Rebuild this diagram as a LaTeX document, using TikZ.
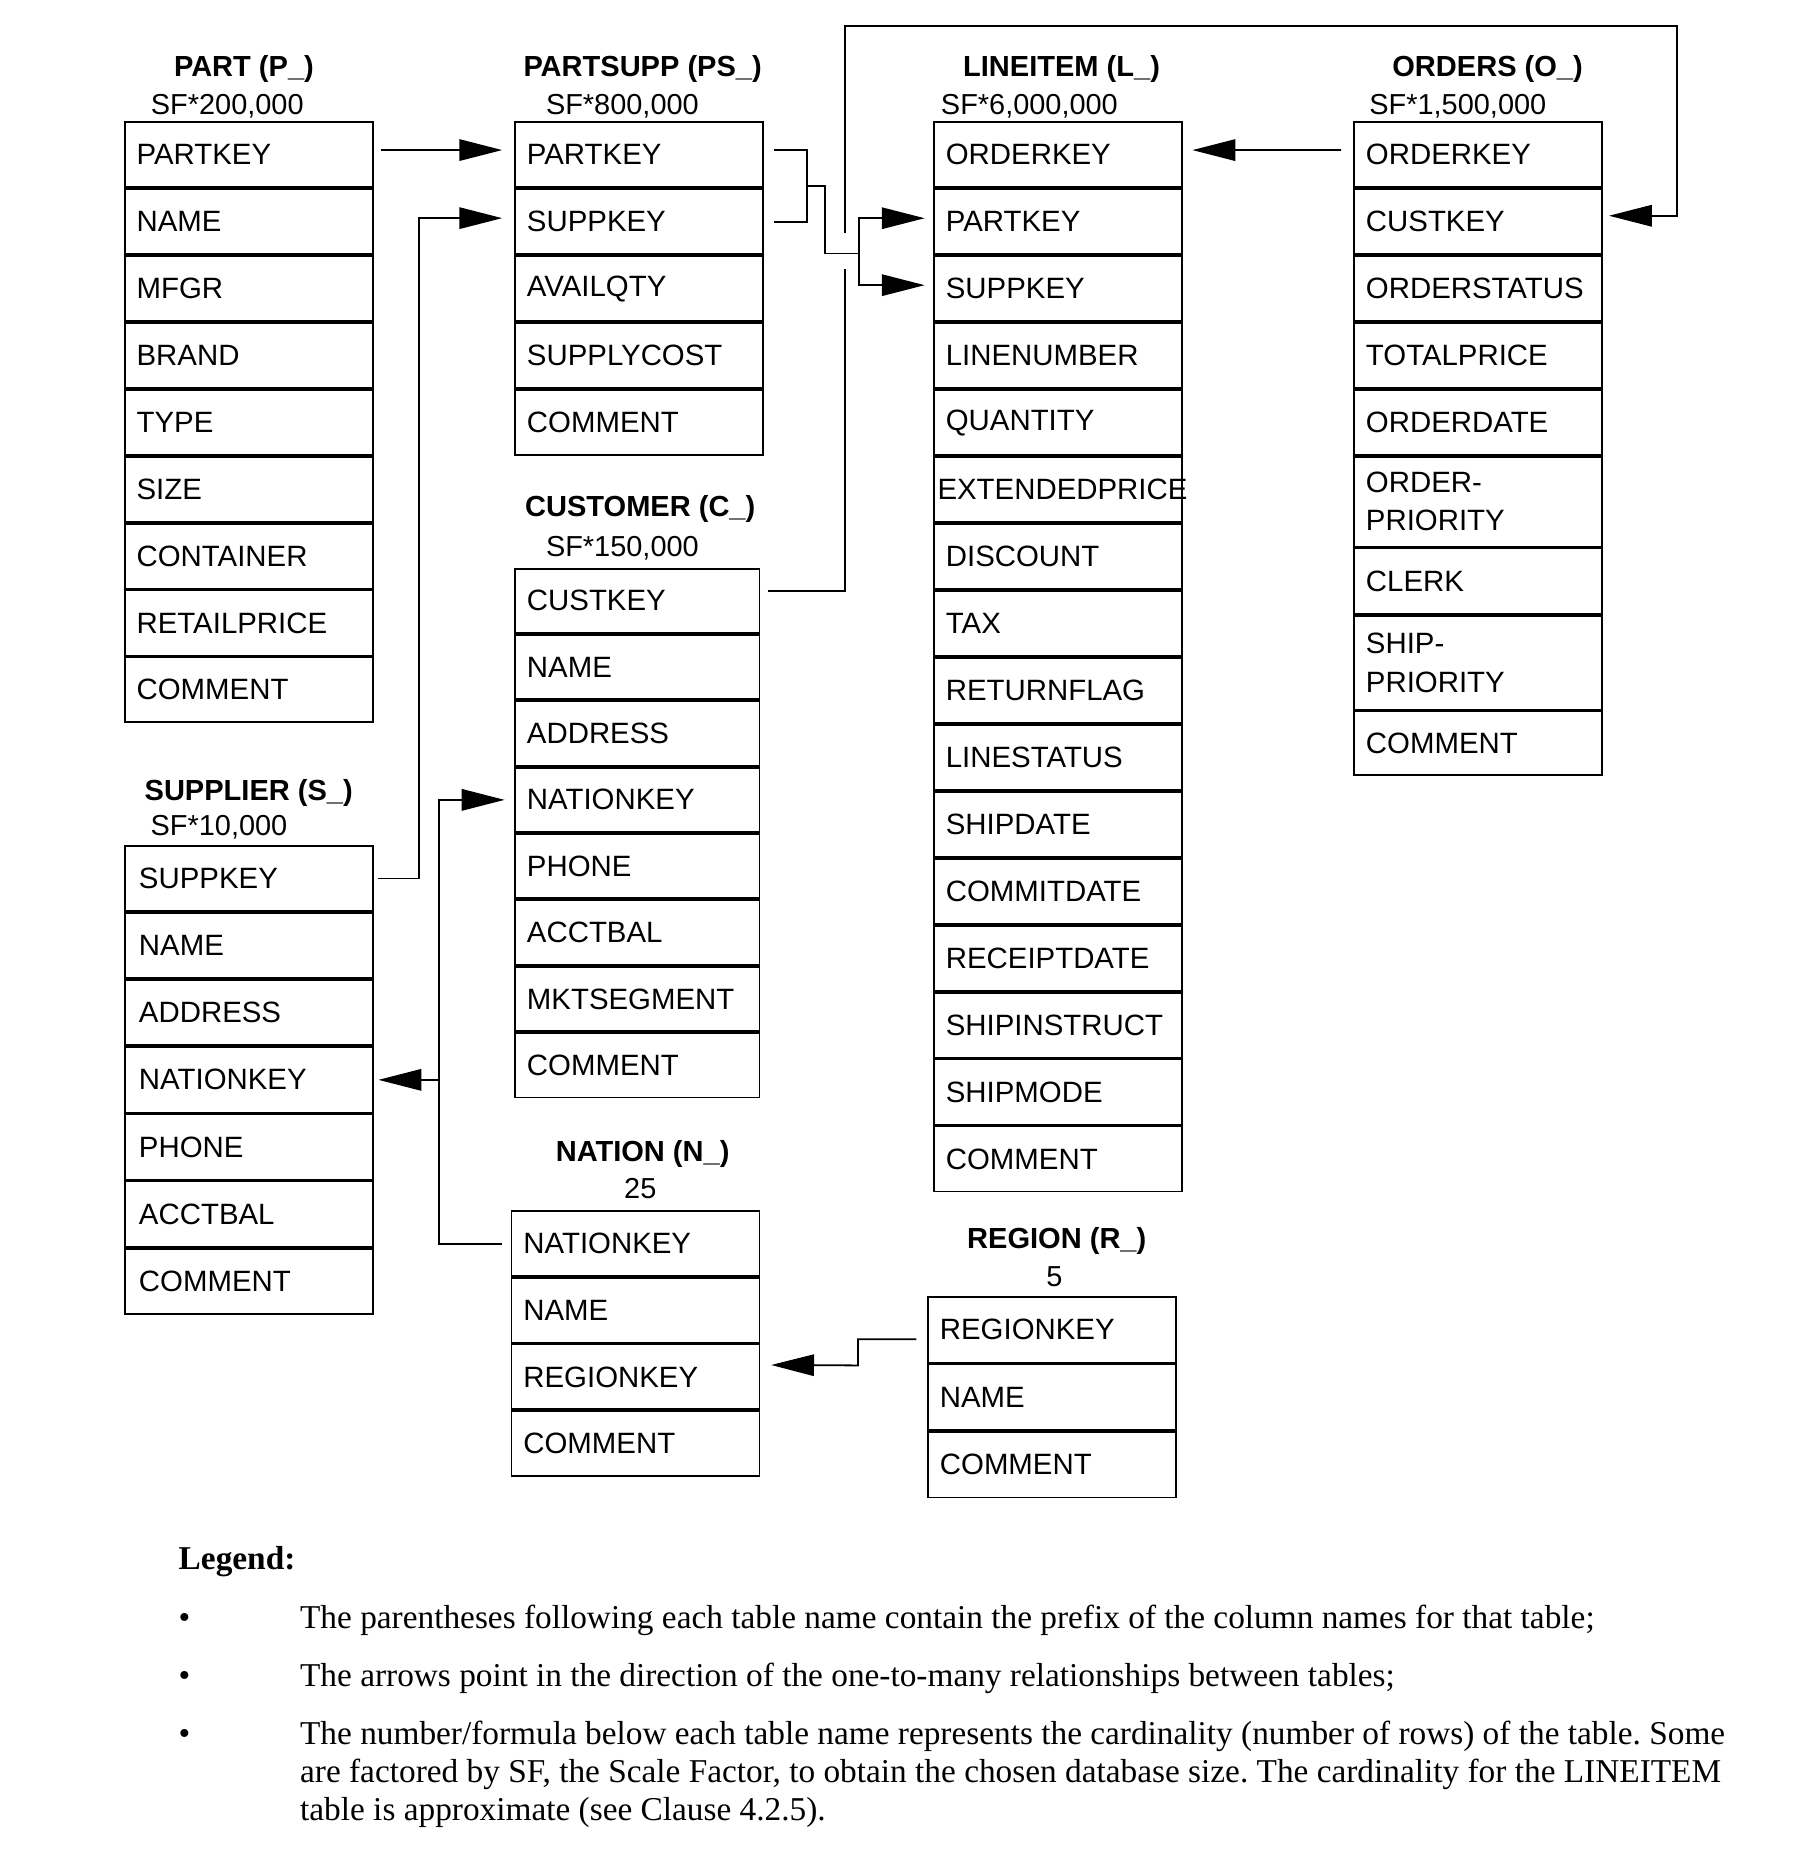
\documentclass[tikz,border=0pt]{standalone}
\usepackage{fontspec}
\setmainfont{Liberation Serif}
\newfontfamily\arial{Liberation Sans}
\usetikzlibrary{arrows.meta,positioning,calc}
\frenchspacing

\begin{document}
\begin{tikzpicture}[x=1pt,y=-1pt,
    campo/.style={draw,line width=1.6pt,anchor=north west,minimum width=208.4pt,
                  text width=188.4pt,inner xsep=10pt,inner ysep=2pt,align=left,
                  font=\arial\fontsize{24.7}{32}\selectfont},
    titulo/.style={inner sep=0pt,font=\arial\bfseries\fontsize{24.4}{28}\selectfont},
    cardinal/.style={inner sep=0pt,font=\arial\fontsize{24.3}{28}\selectfont},
    linea/.style={line width=1.5pt},
    flecha/.style={linea,-{Triangle[length=36pt,width=18pt]}},
    leyenda/.style={anchor=base west,inner sep=0pt,font=\fontsize{28}{32}\selectfont}]
  \useasboundingbox (0,0) rectangle (1506,1568);

  % PART
  \node[titulo] (tPart) at (205,58) {PART (P\_)};
  \node[cardinal] (cPart) at (191,89) {SF*200,000};
  \foreach \f [count=\i] in {PARTKEY,NAME,MFGR,BRAND,TYPE,SIZE,CONTAINER,RETAILPRICE,COMMENT}
    \node[campo,minimum height=54.6pt] (p\i) at (104,{102+(\i-1)*56.2}) {\f};

  % PARTSUPP
  \node[titulo] (tPartsupp) at (540,58) {PARTSUPP (PS\_)};
  \node[cardinal] (cPartsupp) at (523,89) {SF*800,000};
  \foreach \f [count=\i] in {PARTKEY,SUPPKEY,AVAILQTY,SUPPLYCOST,COMMENT}
    \node[campo,minimum height=54.6pt] (ps\i) at (432,{102+(\i-1)*56.2}) {\f};

  % LINEITEM
  \node[titulo] (tLineitem) at (892,58) {LINEITEM (L\_)};
  \node[cardinal] (cLineitem) at (865,89) {SF*6,000,000};
  \foreach \f [count=\i] in {ORDERKEY,PARTKEY,SUPPKEY,LINENUMBER,QUANTITY,
      {\hspace*{-7pt}\mbox{EXTENDEDPRICE}},DISCOUNT,TAX,RETURNFLAG,LINESTATUS,SHIPDATE,
      COMMITDATE,RECEIPTDATE,SHIPINSTRUCT,SHIPMODE,COMMENT}
    \node[campo,minimum height=54.65pt] (l\i) at (784,{102+(\i-1)*56.25}) {\f};

  % ORDERS
  \node[titulo] (tOrders) at (1250,58) {ORDERS (O\_)};
  \node[cardinal] (cOrders) at (1225,89) {SF*1,500,000};
  \foreach \f [count=\i] in {ORDERKEY,CUSTKEY,ORDERSTATUS,TOTALPRICE,ORDERDATE}
    \node[campo,minimum height=54.6pt] (o\i) at (1137,{102+(\i-1)*56.2}) {\f};
  \node[campo,minimum height=75.4pt,below=0pt of o5] (o6) {ORDER-\\PRIORITY};
  \node[campo,minimum height=55.4pt,below=0pt of o6] (o7) {CLERK};
  \node[campo,minimum height=78.4pt,below=0pt of o7] (o8) {SHIP-\\PRIORITY};
  \node[campo,minimum height=53.4pt,below=0pt of o8] (o9) {COMMENT};

  % CUSTOMER
  \node[titulo] (tCustomer) at (538,428) {CUSTOMER (C\_)};
  \node[cardinal] (cCustomer) at (523,461) {SF*150,000};
  \foreach \f [count=\i] in {CUSTKEY,NAME,ADDRESS,NATIONKEY,PHONE,ACCTBAL,MKTSEGMENT,COMMENT}
    \node[campo,minimum width=205.4pt,text width=185.4pt,minimum height=54.15pt]
      (c\i) at (432,{477+(\i-1)*55.75}) {\f};

  % SUPPLIER
  \node[titulo] (tSupplier) at (209,666) {SUPPLIER (S\_)};
  \node[cardinal] (cSupplier) at (184,695) {SF*10,000};
  \foreach \f [count=\i] in {SUPPKEY,NAME,ADDRESS,NATIONKEY,PHONE,ACCTBAL,COMMENT}
    \node[campo,inner xsep=12pt,text width=184.4pt,minimum height=54.8pt]
      (s\i) at (104,{710+(\i-1)*56.4}) {\f};

  % NATION
  \node[titulo] (tNation) at (540,970) {NATION (N\_)};
  \node[cardinal] (cNation) at (538,999) {25};
  \foreach \f [count=\i] in {NATIONKEY,NAME,REGIONKEY,COMMENT}
    \node[campo,minimum height=54.4pt] (n\i) at (429,{1017+(\i-1)*56}) {\f};

  % REGION
  \node[titulo] (tRegion) at (888,1043) {REGION (R\_)};
  \node[cardinal] (cRegion) at (886,1073) {5};
  \foreach \f [count=\i] in {REGIONKEY,NAME,COMMENT}
    \node[campo,minimum height=55.1pt] (r\i) at (779,{1089+(\i-1)*56.7}) {\f};

  % relaciones
  \draw[flecha] ([xshift=6pt,yshift=4pt]p1.east) -- ([xshift=-10pt,yshift=4pt]ps1.west);
  \draw[flecha] ([xshift=4pt]s1.east) -| ([xshift=-80pt,yshift=3pt]ps2.west)
    -- ([xshift=-10pt,yshift=3pt]ps2.west);
  \draw[linea] ([xshift=8pt,yshift=4pt]ps1.east) -| ([xshift=36pt]ps2.east)
    -- ([xshift=8pt]ps2.east);
  \coordinate (psm) at ($([xshift=36pt,yshift=4pt]ps1.east)!0.5!([xshift=36pt]ps2.east)$);
  \coordinate (lbr) at (722,213);
  \draw[linea] (psm) -- ++(15,0) |- (lbr);
  \draw[flecha] (lbr) |- ([xshift=-7pt,yshift=3pt]l2.west);
  \draw[flecha] (lbr) |- ([xshift=-7pt,yshift=3pt]l3.west);
  \coordinate (saltoA) at (710,196);
  \coordinate (saltoB) at (710,226);
  \coordinate (esqA) at (1409,22);
  \draw[linea] ([xshift=6pt,yshift=8pt]c1.east) -| (saltoB);
  \draw[flecha] (saltoA) |- (esqA) |- ([xshift=5pt,yshift=5pt]o2.east);
  \draw[flecha] ([xshift=-10pt,yshift=4pt]o1.west) -- ([xshift=8pt,yshift=4pt]l1.east);
  \draw[flecha] ([xshift=-7pt]n1.west) -| ([xshift=-63pt]c4.west) -- ([xshift=-8pt]c4.west);
  \draw[flecha] ([xshift=55pt]s4.east) -- ([xshift=4pt]s4.east);
  \draw[flecha] ([xshift=-9pt,yshift=-8pt]r1.west) -| ++(-49,22)
    -- ([xshift=9pt,yshift=10pt]n3.east);

  % leyenda
  \node[leyenda,font=\bfseries\fontsize{28}{32}\selectfont] (leg) at (150,1319) {Legend:};
  \node[leyenda] (b1) at (150,1368) {\textbullet};
  \node[leyenda] (b2) at (150,1417) {\textbullet};
  \node[leyenda] (b3) at (150,1466) {\textbullet};
  \node[leyenda] (t1) at (252,1368) {The parentheses following each table name contain the prefix of the column names for that table;};
  \node[leyenda] (t2) at (252,1417) {The arrows point in the direction of the one-to-many relationships between tables;};
  \node[leyenda] (t3) at (252,1466) {The number/formula below each table name represents the cardinality (number of rows) of the table. Some};
  \node[leyenda] (t4) at (252,1498) {are factored by SF, the Scale Factor, to obtain the chosen database size. The cardinality for the LINEITEM};
  \node[leyenda] (t5) at (252,1530) {table is approximate (see Clause 4.2.5).};
\end{tikzpicture}
\end{document}
